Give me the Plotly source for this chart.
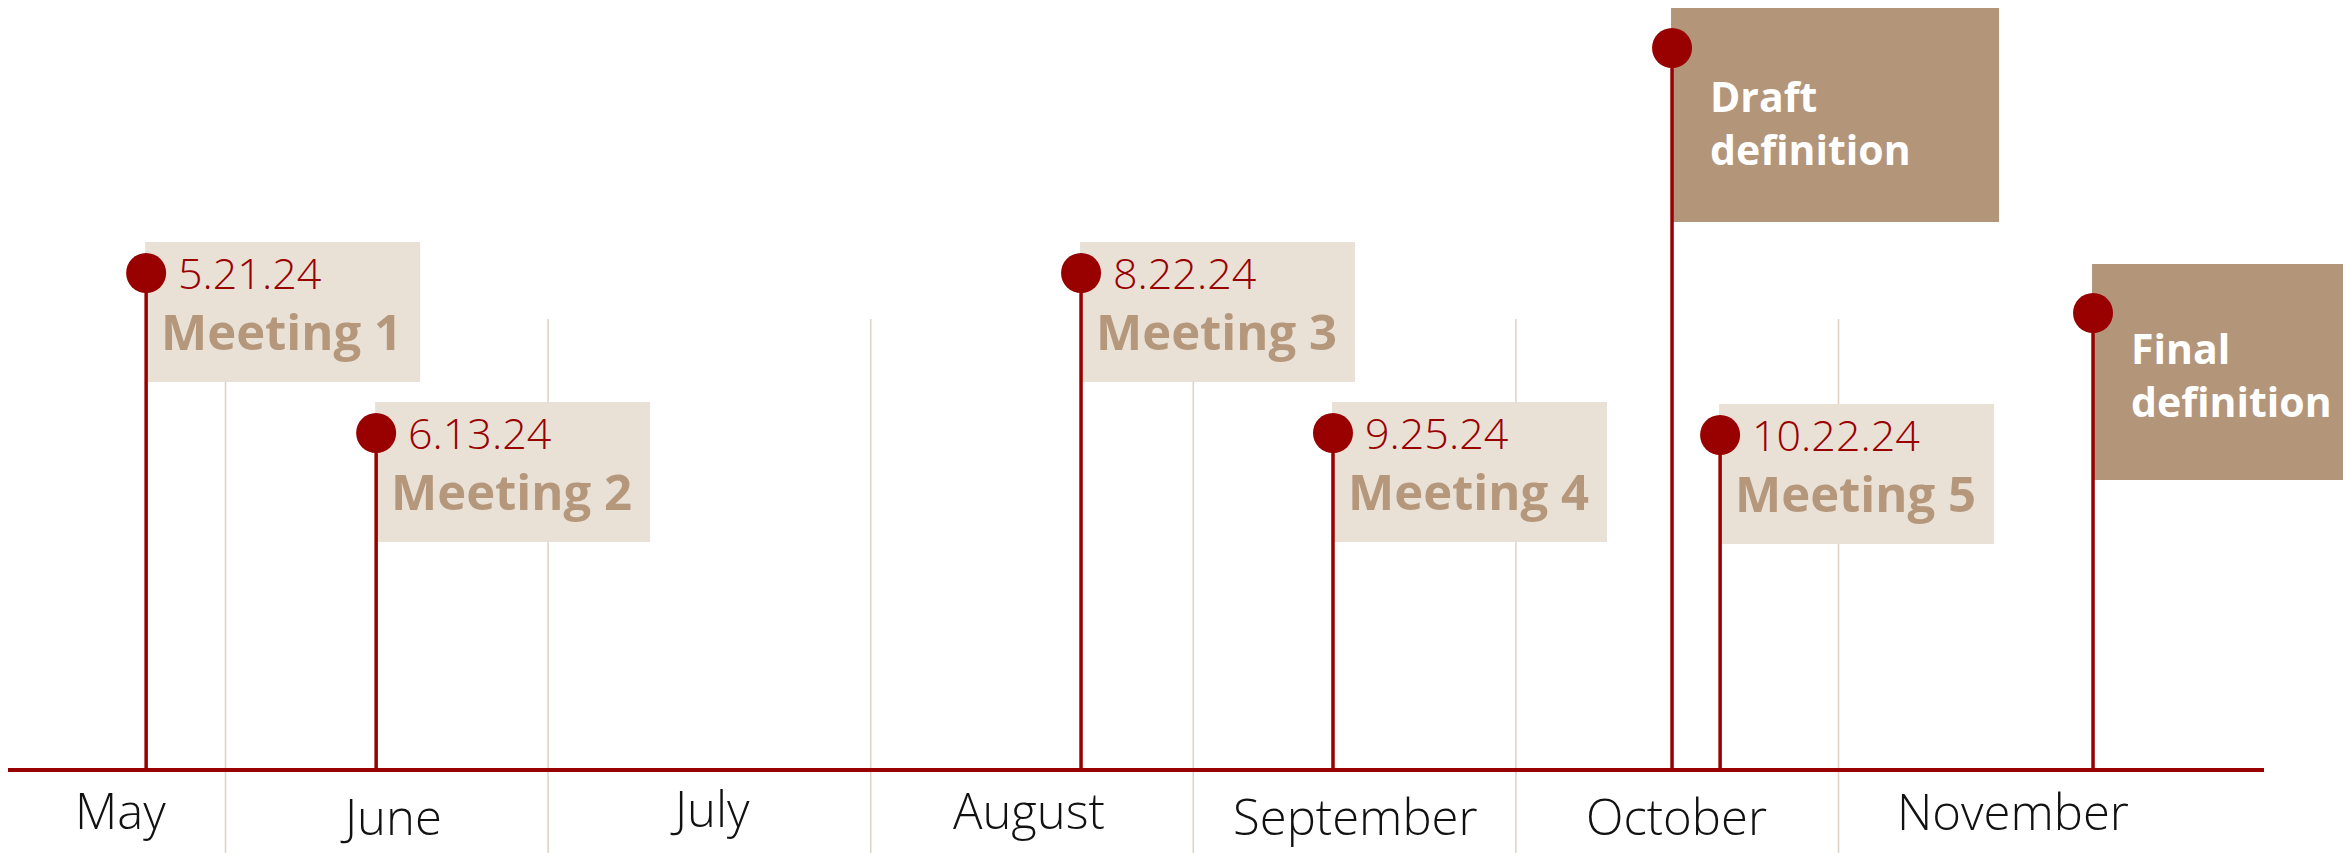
import plotly.graph_objects as go

# ---------------- data ----------------
months = ["May", "June", "July", "August", "September", "October", "November"]
# month label positions on the month axis (0 = start of May, 1 = start of June, ...)
month_label_x = [0.673, 1.513, 2.502, 3.491, 4.504, 5.499, 6.541]
month_label_dy = [-40, -46, -38, -40, -46, -46, -41]
month_boundaries = [1, 2, 3, 4, 5, 6]

events = ["Meeting 1", "Meeting 2", "Meeting 3", "Meeting 4",
          "Draft definition", "Meeting 5", "Final definition"]
event_dates = ["5.21.24", "6.13.24", "8.22.24", "9.25.24", "", "10.22.24", ""]
event_kind = ["meeting", "meeting", "meeting", "meeting",
              "milestone", "meeting", "milestone"]
# position of each stem on the month axis
event_x = [0.754, 1.467, 3.652, 4.433, 5.484, 5.633, 6.789]
# stem height above the timeline
event_h = [497, 337, 497, 337, 722, 335, 457]

# ---------------- styling ----------------
PAGE_W, PAGE_H = 2351, 853
OFF = 8                       # default page margin around the plot div
W, H = PAGE_W - OFF, PAGE_H - OFF
X1PX = 225.5 - OFF            # pixel of month-axis value 1 (figure coords)
SPM = 322.6                   # pixels per month
BASE_PX = 770 - OFF           # pixel row of the timeline (figure coords)
RED = "#990000"
LIGHT_BOX = "#e9e0d6"
DARK_BOX = "#b3957a"
TAN_TEXT = "#b5977b"
SEP = "#ddd1c3"
FONT = "Open Sans"


def px2x(p):
    return (p - OFF - X1PX) / SPM + 1


xr = [(0 - X1PX) / SPM + 1, (W - X1PX) / SPM + 1]
yr = [-(H - BASE_PX), BASE_PX]

fig = go.Figure()
shapes = []
annotations = []

# month separators
for b in month_boundaries:
    shapes.append(dict(type="line", xref="x", yref="y", x0=b, x1=b,
                       y0=yr[0], y1=770 - 319, layer="below",
                       line=dict(color=SEP, width=1.5)))

# boxes
for i, (x, h, k) in enumerate(zip(event_x, event_h, event_kind)):
    if k == "meeting":
        top = h + 31
        bw, bh, col = 274, 140, LIGHT_BOX
    else:
        top = h + (42 if i == 4 else 49)
        bw, bh, col = (327 if i == 4 else 380), 216, DARK_BOX
    shapes.append(dict(type="rect", xref="x", yref="y",
                       x0=x - 1 / SPM, x1=x + bw / SPM, y0=top - bh, y1=top,
                       layer="below", fillcolor=col, line=dict(width=0)))

# timeline baseline
fig.add_trace(go.Scatter(x=[px2x(6), px2x(2264)], y=[0, 0], mode="lines",
                         line=dict(color=RED, width=4), hoverinfo="skip"))

# stems
for x, h in zip(event_x, event_h):
    fig.add_trace(go.Scatter(x=[x, x], y=[0, h], mode="lines",
                             line=dict(color=RED, width=3.5), hoverinfo="skip"))

# pins
fig.add_trace(go.Scatter(x=event_x, y=event_h, mode="markers",
                         marker=dict(color=RED, size=40, line=dict(width=0)),
                         hoverinfo="skip"))

# texts
for i, (name, d, k, x, h) in enumerate(zip(events, event_dates, event_kind,
                                             event_x, event_h)):
    if k == "meeting":
        annotations.append(dict(x=x, y=h, xref="x", yref="y", text=d,
                                showarrow=False, xanchor="left", yanchor="middle",
                                xshift=30, yshift=1,
                                font=dict(family=FONT, size=43, color=RED, weight=300)))
        annotations.append(dict(x=x, y=h, xref="x", yref="y", text="<b>%s</b>" % name,
                                showarrow=False, xanchor="left", yanchor="middle",
                                xshift=13, yshift=-58,
                                font=dict(family=FONT, size=49, color=TAN_TEXT)))
    else:
        words = name.split(" ")
        txt = "<b>%s<br>%s</b>" % (words[0], words[1])
        off = 74 if i == 4 else 61
        annotations.append(dict(x=x, y=h, xref="x", yref="y", text=txt,
                                showarrow=False, xanchor="left", yanchor="middle",
                                align="left", xshift=36, yshift=-off,
                                font=dict(family=FONT, size=41, color="white")))

# month labels
for m, mx, dy in zip(months, month_label_x, month_label_dy):
    annotations.append(dict(x=mx, y=dy, xref="x", yref="y", text=m,
                            showarrow=False, xanchor="center", yanchor="middle",
                            font=dict(family=FONT, size=49, color="#111111", weight=300)))

fig.update_layout(
    width=W, height=H, margin=dict(l=0, r=0, t=0, b=0),
    paper_bgcolor="white", plot_bgcolor="white", showlegend=False,
    xaxis=dict(range=xr, visible=False, fixedrange=True),
    yaxis=dict(range=yr, visible=False, fixedrange=True),
    shapes=shapes, annotations=annotations,
)

fig.write_html("out.html", config={"displayModeBar": False})
